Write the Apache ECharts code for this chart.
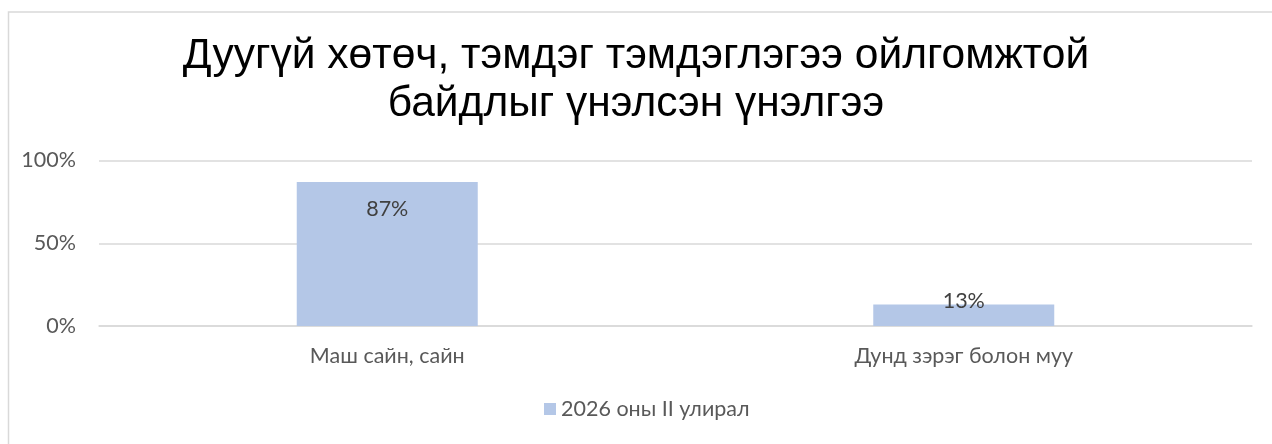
<!DOCTYPE html>
<html>
<head>
<meta charset="utf-8">
<script src="https://cdn.jsdelivr.net/npm/echarts@6/dist/echarts.min.js"></script>
<style>html,body{margin:0;padding:0;background:#fff}#c{width:1272px;height:444px}</style>
</head>
<body>
<div id="c"></div>
<script>
const titleText = 'Дуугүй хөтөч, тэмдэг тэмдэглэгээ ойлгомжтой\nбайдлыг үнэлсэн үнэлгээ';
const categories = ['Маш сайн, сайн', 'Дунд зэрэг болон муу'];
const seriesName = '2026 оны II улирал';
const values = [87, 13];
const yTicks = [0, 50, 100];

const labelFont = 'Lato, "Open Sans", sans-serif';
const fs = 21.5;
const chart = echarts.init(document.getElementById('c'), null, {renderer: 'canvas'});
chart.setOption({
  animation: false,
  backgroundColor: '#fff',
  graphic: [{
    type: 'rect', left: 6, top: 9.5, silent: true, z: -1,
    shape: {x: 0, y: 0, width: 1300, height: 500},
    style: {fill: 'none', stroke: '#d9d9d9', lineWidth: 1.5}
  }],
  title: {
    text: titleText,
    left: 'center', top: 27,
    textStyle: {fontFamily: '"Liberation Sans", Arial, sans-serif', fontSize: 42.5, fontWeight: 'normal', color: '#000', lineHeight: 48}
  },
  legend: {
    bottom: 19, left: 539,
    itemWidth: 12, itemHeight: 12, itemGap: 7,
    icon: 'rect',
    textStyle: {fontFamily: labelFont, fontSize: fs, color: '#595959'},
    data: [seriesName]
  },
  grid: {left: 99, right: 20, top: 160.5, bottom: 118, containLabel: false},
  xAxis: {
    type: 'category', data: categories,
    axisLine: {show: true, lineStyle: {color: '#d9d9d9', width: 1.5}},
    axisTick: {show: false},
    axisLabel: {fontFamily: labelFont, fontSize: fs, color: '#595959', margin: 19}
  },
  yAxis: {
    type: 'value', min: 0, max: 100, interval: 50,
    axisLine: {show: false}, axisTick: {show: false},
    splitLine: {lineStyle: {color: '#d9d9d9', width: 1.5}},
    axisLabel: {fontFamily: labelFont, fontSize: fs, color: '#595959', margin: 23,
      formatter: v => yTicks.includes(v) ? v + '%' : ''}
  },
  series: [{
    name: seriesName, type: 'bar', barWidth: 181,
    itemStyle: {color: '#b4c7e7'},
    data: values.map((v, i) => ({
      value: v,
      label: i === 0 ? {position: 'insideTop', distance: 16} : {position: 'top', distance: -7.5}
    })),
    label: {show: true, formatter: p => p.value + '%', fontFamily: labelFont, fontSize: fs, color: '#404040'}
  }]
});
</script>
</body>
</html>
